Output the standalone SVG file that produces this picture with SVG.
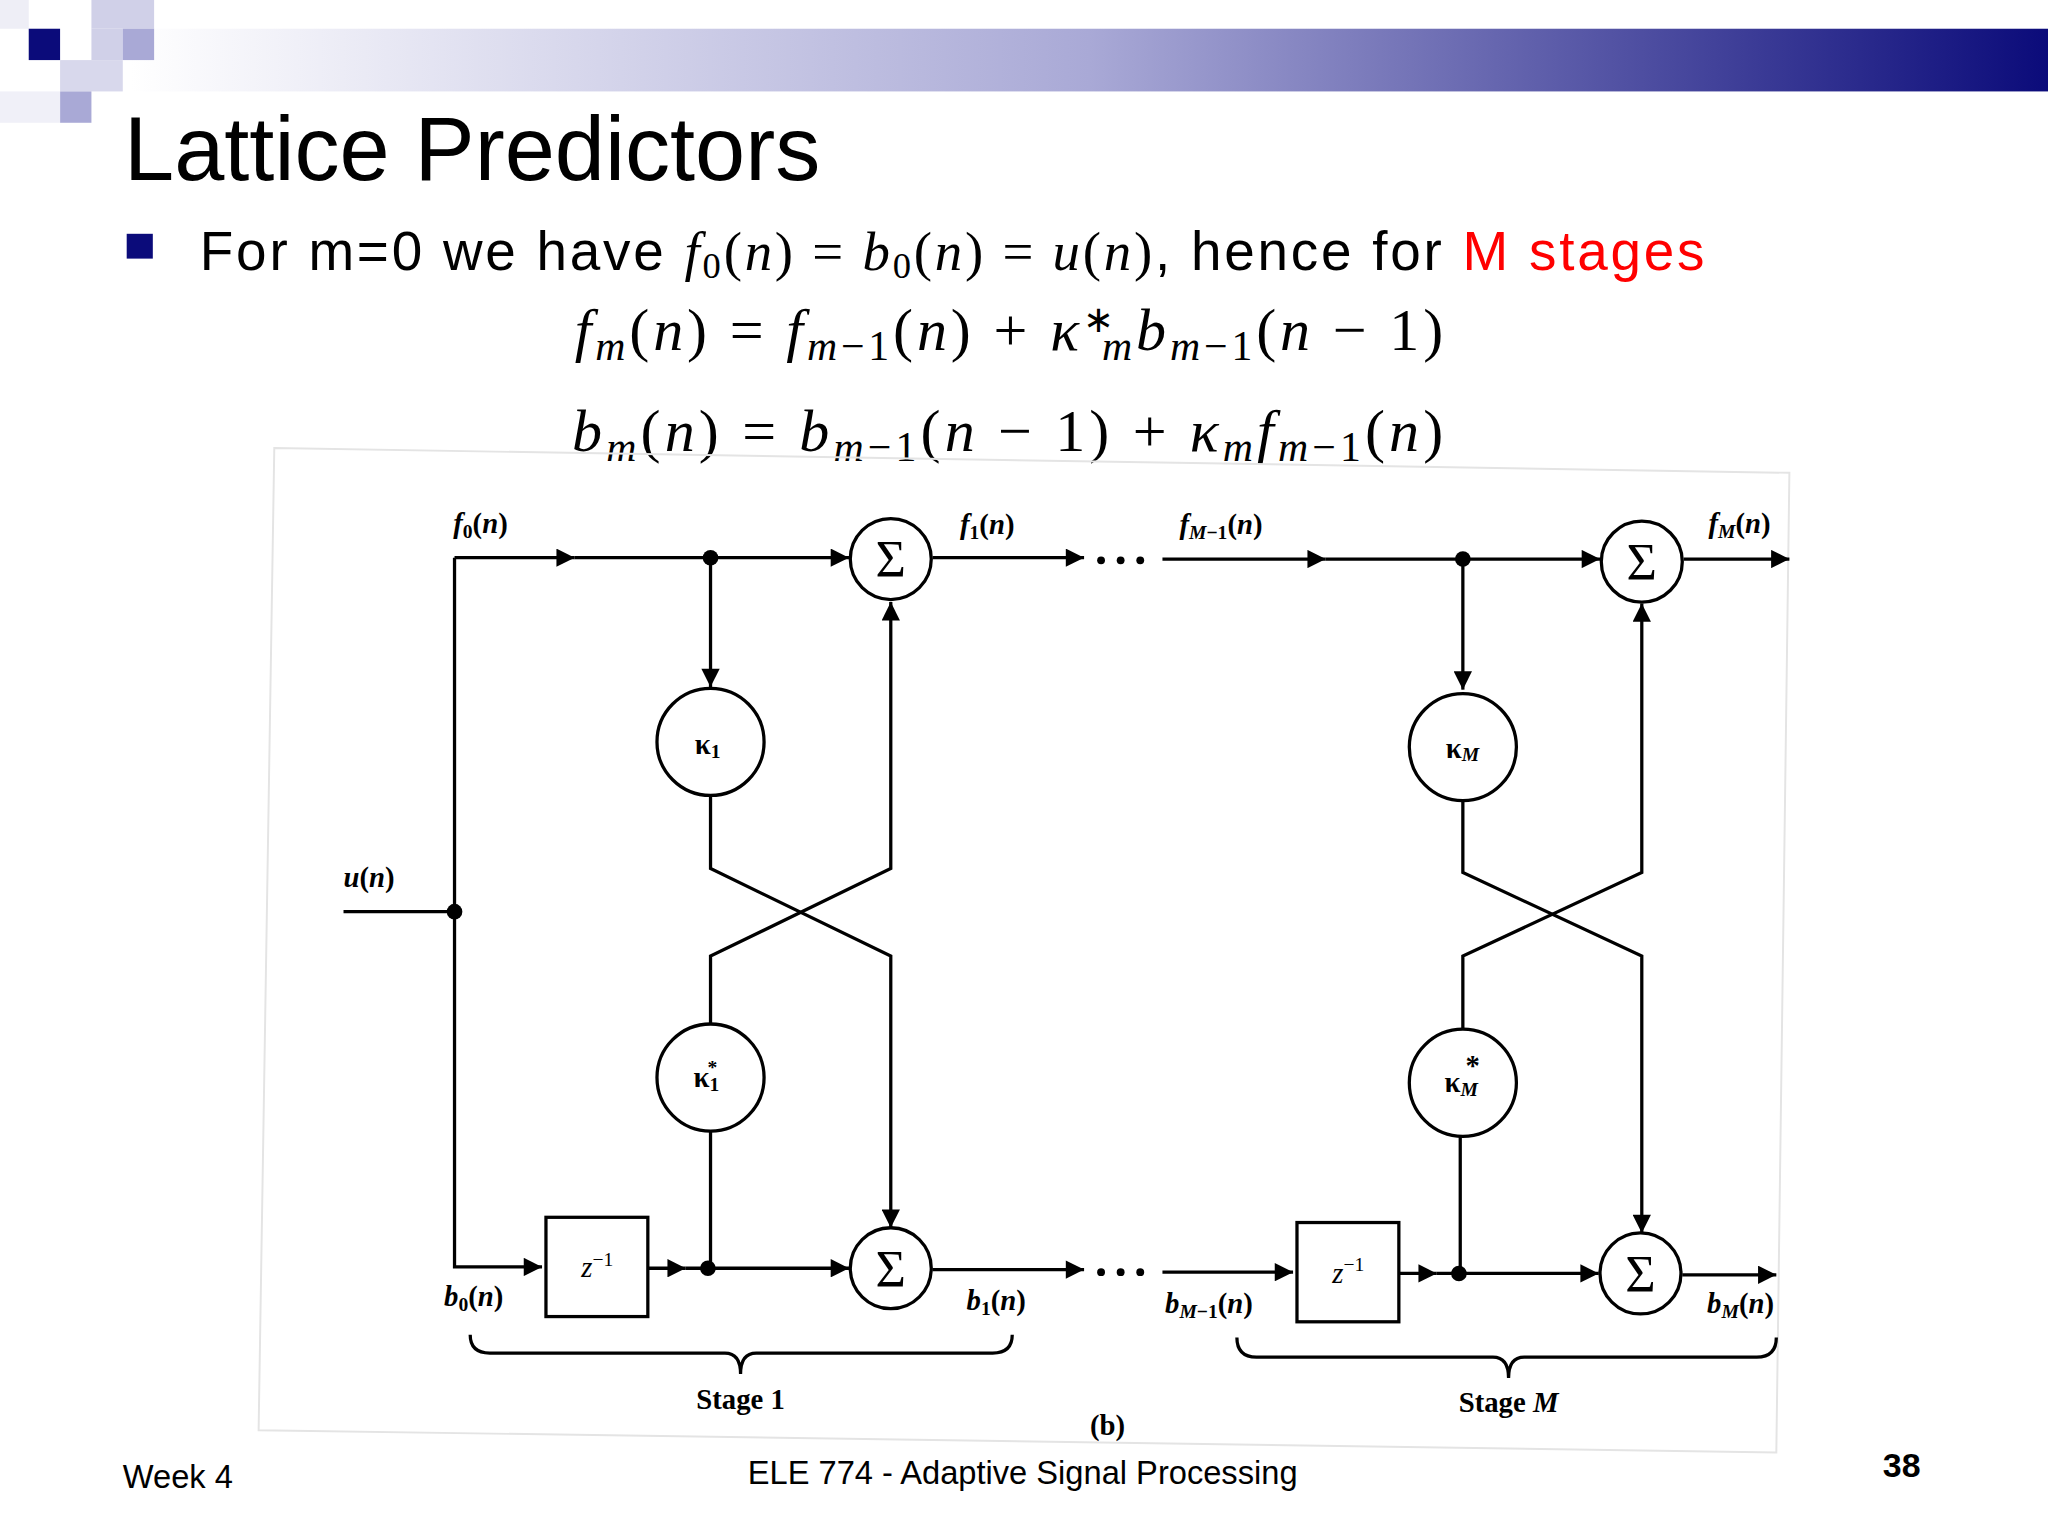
<svg xmlns="http://www.w3.org/2000/svg" width="2048" height="1536" viewBox="0 0 2048 1536">
<defs>
<linearGradient id="bar" x1="0" x2="1" y1="0" y2="0">
<stop offset="0" stop-color="#ffffff"/><stop offset="0.5" stop-color="#a9a9d6"/><stop offset="1" stop-color="#0b0b7a"/>
</linearGradient>
<marker id="ar" viewBox="0 0 10 10" refX="10" refY="5" markerWidth="20" markerHeight="14" markerUnits="userSpaceOnUse" orient="auto"><path d="M0,0 L10,5 L0,10 z" fill="#000"/></marker>
<style>
.w{stroke:#000;stroke-width:2.5;fill:none}
.c{stroke:#000;stroke-width:2.5;fill:#fff}
.s{font-family:"Liberation Sans",Arial,sans-serif}
.m{font-family:"Liberation Serif","Times New Roman",serif;font-style:italic}
.l{font-family:"Liberation Serif","Times New Roman",serif;font-weight:bold;font-size:22px}
.g{font-family:"Liberation Serif","DejaVu Serif",serif;font-size:40px;text-anchor:middle}
</style>
</defs>
<rect width="2048" height="1536" fill="#fff"/>
<g transform="scale(1.30612)">
<g id="header">
<rect x="100" y="22" width="1468" height="48" fill="url(#bar)"/>
<rect x="0" y="0" width="22" height="22" fill="#eeeef6"/>
<rect x="70" y="0" width="48" height="22" fill="#d0d0e8"/>
<rect x="22" y="22" width="24" height="24" fill="#0b0b7a"/>
<rect x="70" y="22" width="24" height="24" fill="#d0d0e8"/>
<rect x="94" y="22" width="24" height="24" fill="#a9a9d6"/>
<rect x="46" y="46" width="48" height="24" fill="#d8d8ec"/>
<rect x="46" y="70" width="24" height="24" fill="#a9a9d6"/>
<rect x="0" y="70" width="46" height="24" fill="#f0f0f8"/>
</g>
<text class="s" x="95" y="138" font-size="69">Lattice Predictors</text>
<rect x="97" y="179" width="20" height="19" fill="#0b0b7a"/>
<text x="153" y="207" font-size="42" textLength="1152" lengthAdjust="spacing"><tspan class="s">For m=0 we have </tspan><tspan class="m">f</tspan><tspan font-family="Liberation Serif" font-size="28" dy="6">0</tspan><tspan font-family="Liberation Serif" dy="-6">(</tspan><tspan class="m">n</tspan><tspan font-family="Liberation Serif">) = </tspan><tspan class="m">b</tspan><tspan font-family="Liberation Serif" font-size="28" dy="6">0</tspan><tspan font-family="Liberation Serif" dy="-6">(</tspan><tspan class="m">n</tspan><tspan font-family="Liberation Serif">) = </tspan><tspan class="m">u</tspan><tspan font-family="Liberation Serif">(</tspan><tspan class="m">n</tspan><tspan font-family="Liberation Serif">)</tspan><tspan class="s">, hence for </tspan><tspan class="s" fill="#ff0000">M stages</tspan></text>
<text x="440" y="268" font-size="46" font-family="Liberation Serif" textLength="665" lengthAdjust="spacing"><tspan class="m">f</tspan><tspan class="m" font-size="32" dy="8">m</tspan><tspan dy="-8">(</tspan><tspan class="m">n</tspan>) = <tspan class="m">f</tspan><tspan class="m" font-size="32" dy="8">m</tspan><tspan font-size="32">−1</tspan><tspan dy="-8">(</tspan><tspan class="m">n</tspan>) + <tspan class="m">κ</tspan><tspan font-size="28" dy="-14">∗</tspan><tspan class="m" font-size="32" dx="-12" dy="22">m</tspan><tspan class="m" dy="-8">b</tspan><tspan class="m" font-size="32" dy="8">m</tspan><tspan font-size="32">−1</tspan><tspan dy="-8">(</tspan><tspan class="m">n</tspan> − 1)</text>
<text x="438" y="345" font-size="46" font-family="Liberation Serif" textLength="667" lengthAdjust="spacing"><tspan class="m">b</tspan><tspan class="m" font-size="32" dy="8">m</tspan><tspan dy="-8">(</tspan><tspan class="m">n</tspan>) = <tspan class="m">b</tspan><tspan class="m" font-size="32" dy="8">m</tspan><tspan font-size="32">−1</tspan><tspan dy="-8">(</tspan><tspan class="m">n</tspan> − 1) + <tspan class="m">κ</tspan><tspan class="m" font-size="32" dy="8">m</tspan><tspan class="m" dy="-8">f</tspan><tspan class="m" font-size="32" dy="8">m</tspan><tspan font-size="32">−1</tspan><tspan dy="-8">(</tspan><tspan class="m">n</tspan>)</text>
<path d="M210,343 L1370,362 L1360,1112 L198,1095 z" fill="none" stroke="#e4e4e4" stroke-width="1.5"/>
<g id="connectors">
<path class="w" d="M348,427 H440" marker-end="url(#ar)"/>
<path class="w" d="M440,427 H650" marker-end="url(#ar)"/>
<path class="w" d="M714,427 H830" marker-end="url(#ar)"/>
<path class="w" d="M890,428 H1015" marker-end="url(#ar)"/>
<path class="w" d="M1015,428 H1225" marker-end="url(#ar)"/>
<path class="w" d="M1289,428 H1370" marker-end="url(#ar)"/>
<path class="w" d="M263,698 H348 M348,427 V970 H415" marker-end="url(#ar)"/>
<path class="w" d="M544,427 V526" marker-end="url(#ar)"/>
<path class="w" d="M544,609 V665 L682,732 V940" marker-end="url(#ar)"/>
<path class="w" d="M544,784 V732 L682,665 V461" marker-end="url(#ar)"/>
<path class="w" d="M544,866 V971"/>
<path class="w" d="M496,971 H525" marker-end="url(#ar)"/>
<path class="w" d="M525,971 H650" marker-end="url(#ar)"/>
<path class="w" d="M714,972 H830" marker-end="url(#ar)"/>
<path class="w" d="M890,974 H990" marker-end="url(#ar)"/>
<path class="w" d="M1120,428 V528" marker-end="url(#ar)"/>
<path class="w" d="M1120,613 V668 L1257,732 V944" marker-end="url(#ar)"/>
<path class="w" d="M1120,788 V732 L1257,668 V462" marker-end="url(#ar)"/>
<path class="w" d="M1118,870 V975"/>
<path class="w" d="M1071,975 H1100" marker-end="url(#ar)"/>
<path class="w" d="M1100,975 H1224" marker-end="url(#ar)"/>
<path class="w" d="M1288,976 H1360" marker-end="url(#ar)"/>
<path class="w" d="M360,1022 Q360,1036 375,1036 H555 Q567,1036 567,1052 Q567,1036 579,1036 H760 Q775,1036 775,1022"/>
<path class="w" d="M947,1024 Q947,1039 962,1039 H1143 Q1155,1039 1155,1055 Q1155,1039 1167,1039 H1345 Q1360,1039 1360,1024"/>
<g fill="#000">
<circle cx="544" cy="427" r="6"/><circle cx="348" cy="698" r="6"/><circle cx="542" cy="971" r="6"/>
<circle cx="1120" cy="428" r="6"/><circle cx="1117" cy="975" r="6"/>
<circle cx="843" cy="429" r="3"/><circle cx="858" cy="429" r="3"/><circle cx="873" cy="429" r="3"/>
<circle cx="843" cy="974" r="3"/><circle cx="858" cy="974" r="3"/><circle cx="873" cy="974" r="3"/>
</g>
</g>
<g id="sum1t"><circle class="c" cx="682" cy="428" r="31"/><text class="g" x="682" y="442">Σ</text></g>
<g id="sum1b"><circle class="c" cx="682" cy="971" r="31"/><text class="g" x="682" y="985">Σ</text></g>
<g id="sumMt"><circle class="c" cx="1257" cy="430" r="31"/><text class="g" x="1257" y="444">Σ</text></g>
<g id="sumMb"><circle class="c" cx="1256" cy="975" r="31"/><text class="g" x="1256" y="989">Σ</text></g>
<g id="k1"><circle class="c" cx="544" cy="568" r="41"/><text class="l" x="532" y="577">κ<tspan font-size="15" dy="3">1</tspan></text></g>
<g id="k1s"><circle class="c" cx="544" cy="825" r="41"/><text class="l" x="531" y="832">κ<tspan font-size="15" dy="3">1</tspan><tspan font-size="15" dx="-9" dy="-13">*</tspan></text></g>
<g id="kM"><circle class="c" cx="1120" cy="572" r="41"/><text class="l" x="1107" y="580">κ<tspan class="m" font-size="15" dy="3">M</tspan></text></g>
<g id="kMs"><circle class="c" cx="1120" cy="829" r="41"/><text class="l" x="1106" y="836">κ<tspan class="m" font-size="15" dy="3">M</tspan></text><text class="l" x="1122" y="823" font-size="15">*</text></g>
<g id="z1"><rect class="c" x="418" y="932" width="78" height="76"/><text class="m" x="445" y="978" font-size="22">z<tspan font-style="normal" font-size="15" dy="-9">−1</tspan></text></g>
<g id="zM"><rect class="c" x="993" y="936" width="78" height="76"/><text class="m" x="1020" y="982" font-size="22">z<tspan font-style="normal" font-size="15" dy="-9">−1</tspan></text></g>
<g class="l">
<text x="347" y="408"><tspan class="m">f</tspan><tspan font-size="15" dy="4">0</tspan><tspan dy="-4">(</tspan><tspan class="m">n</tspan>)</text>
<text x="735" y="409"><tspan class="m">f</tspan><tspan font-size="15" dy="4">1</tspan><tspan dy="-4">(</tspan><tspan class="m">n</tspan>)</text>
<text x="903" y="409"><tspan class="m">f</tspan><tspan class="m" font-size="15" dy="4">M</tspan><tspan font-size="15">−1</tspan><tspan dy="-4">(</tspan><tspan class="m">n</tspan>)</text>
<text x="1308" y="408"><tspan class="m">f</tspan><tspan class="m" font-size="15" dy="4">M</tspan><tspan dy="-4">(</tspan><tspan class="m">n</tspan>)</text>
<text x="263" y="679"><tspan class="m">u</tspan>(<tspan class="m">n</tspan>)</text>
<text x="340" y="1000"><tspan class="m">b</tspan><tspan font-size="15" dy="4">0</tspan><tspan dy="-4">(</tspan><tspan class="m">n</tspan>)</text>
<text x="740" y="1003"><tspan class="m">b</tspan><tspan font-size="15" dy="4">1</tspan><tspan dy="-4">(</tspan><tspan class="m">n</tspan>)</text>
<text x="892" y="1005"><tspan class="m">b</tspan><tspan class="m" font-size="15" dy="4">M</tspan><tspan font-size="15">−1</tspan><tspan dy="-4">(</tspan><tspan class="m">n</tspan>)</text>
<text x="1307" y="1005"><tspan class="m">b</tspan><tspan class="m" font-size="15" dy="4">M</tspan><tspan dy="-4">(</tspan><tspan class="m">n</tspan>)</text>
<text x="567" y="1079" text-anchor="middle">Stage 1</text>
<text x="1155" y="1081" text-anchor="middle">Stage <tspan class="m">M</tspan></text>
<text x="848" y="1099" text-anchor="middle">(b)</text>
</g>
<text class="s" x="94" y="1139" font-size="25">Week 4</text>
<text class="s" x="783" y="1136" font-size="25" text-anchor="middle">ELE 774 - Adaptive Signal Processing</text>
<text class="s" x="1456" y="1131" font-size="26" font-weight="bold" text-anchor="middle">38</text>
</g>
</svg>
